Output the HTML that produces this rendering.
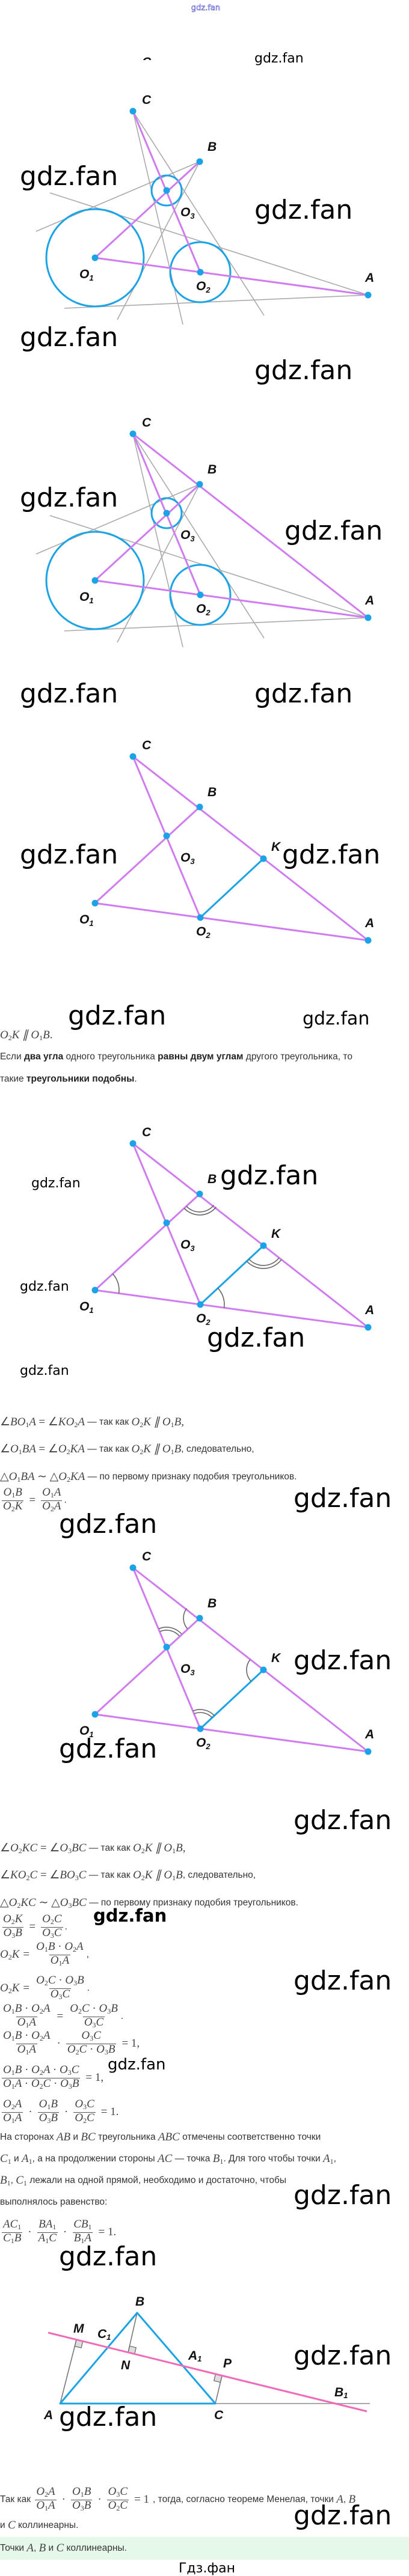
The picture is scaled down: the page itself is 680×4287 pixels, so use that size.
<!DOCTYPE html>
<html><head><meta charset="utf-8">
<style>
html,body{margin:0;padding:0;background:#fff;}
body{width:680px;height:4287px;position:relative;overflow:hidden;font-family:"Liberation Sans",sans-serif;color:#333;}
svg{position:absolute;left:0;top:0;}
.r{position:absolute;left:0;white-space:nowrap;font-size:15.5px;display:flex;align-items:center;height:34px;}
.m{font-family:"Liberation Serif",serif;font-style:italic;font-size:19px;color:#444;}
.m sub,.fr sub{font-style:normal;font-size:12px;vertical-align:-3px;}
.n{font-style:normal;}
.fr{display:inline-flex;flex-direction:column;align-items:center;font-family:"Liberation Serif",serif;font-style:italic;font-size:19px;color:#444;vertical-align:middle;margin:0 3px;}
.fr>span{line-height:17px;padding:0 2px;}
.fr>span+span{border-top:1px solid #555;}
.op{font-family:"Liberation Serif",serif;font-size:19px;color:#444;margin:0 6px;}
b{color:#222;}
.band{position:absolute;left:0;top:4222px;width:680px;height:38px;background:#e5f8ea;}
</style></head><body>
<div class="band"></div>
<svg width="680" height="4287" viewBox="0 0 680 4287" xmlns="http://www.w3.org/2000/svg">
<defs>
<g id="lab">
<g font-family="Liberation Sans" font-weight="bold" font-style="italic" font-size="21" fill="#111">
<text x="236" y="173">C</text>
<text x="345" y="251">B</text>
<text x="300" y="360">O<tspan font-size="13" dy="4">3</tspan></text>
<text x="132" y="463">O<tspan font-size="13" dy="4">1</tspan></text>
<text x="326" y="483">O<tspan font-size="13" dy="4">2</tspan></text>
<text x="607" y="469">A</text>
</g>
</g>
<g id="gray" stroke="#aaa" stroke-width="1.6">
<line x1="83" y1="321" x2="612" y2="491"/>
<line x1="60" y1="385" x2="332" y2="269"/>
<line x1="107" y1="513" x2="612" y2="491"/>
<line x1="221" y1="185" x2="304" y2="540"/>
<line x1="221" y1="185" x2="439" y2="525"/>
<line x1="332" y1="269" x2="195" y2="532"/>
</g>
<g id="circ" stroke="#1aa3e6" stroke-width="3" fill="none">
<circle cx="158" cy="429" r="81"/>
<circle cx="333" cy="453" r="50"/>
<circle cx="277" cy="317" r="25"/>
</g>
<g id="pts6" fill="#1aa3e6">
<circle cx="221" cy="185" r="5.5"/><circle cx="332" cy="269" r="5.5"/><circle cx="277" cy="317" r="5.5"/>
<circle cx="158" cy="429" r="5.5"/><circle cx="333" cy="453" r="5.5"/><circle cx="612" cy="491" r="5.5"/>
</g>
<g id="mag1" stroke="#d07cf0" stroke-width="3">
<line x1="221" y1="185" x2="333" y2="453"/>
<line x1="158" y1="429" x2="332" y2="269"/>
<line x1="158" y1="429" x2="612" y2="491"/>
</g>
<g id="tri">
<g stroke="#d07cf0" stroke-width="3">
<line x1="221" y1="185" x2="612" y2="491"/>
<line x1="221" y1="185" x2="333" y2="453"/>
<line x1="158" y1="429" x2="332" y2="269"/>
<line x1="158" y1="429" x2="612" y2="491"/>
</g>
<line x1="333" y1="453" x2="438" y2="355" stroke="#1aa3e6" stroke-width="3"/>
<use href="#pts6"/>
<circle cx="438" cy="355" r="5.5" fill="#1aa3e6"/>
<use href="#lab"/>
<text x="451" y="342" font-family="Liberation Sans" font-weight="bold" font-style="italic" font-size="21" fill="#111">K</text>
</g>
</defs>

<text x="342" y="17" text-anchor="middle" font-family="DejaVu Sans" font-size="13" fill="none" stroke="#4444cc" stroke-width="0.6">gdz.fan</text>
<text x="236" y="110" font-family="Liberation Sans" font-weight="bold" font-style="italic" font-size="21" fill="#111">C</text>
<rect x="225" y="100" width="40" height="20" fill="#fff"/>

<use href="#gray"/><use href="#circ"/><use href="#mag1"/><use href="#pts6"/><use href="#lab"/>
<g transform="translate(0,537)">
<use href="#gray"/><use href="#circ"/><use href="#mag1"/>
<line x1="221" y1="185" x2="612" y2="491" stroke="#d07cf0" stroke-width="3"/>
<use href="#pts6"/><use href="#lab"/>
</g>
<g transform="translate(0,1074)"><use href="#tri"/></g>
<g transform="translate(0,1718)">
<use href="#tri"/>
<g stroke="#666" stroke-width="1.6" fill="none">
<path d="M355.5,287.6 A30,30 0 0 1 309.9,289.3"/>
<path d="M359.4,290.7 A35,35 0 0 1 306.2,292.7"/>
<path d="M464,375.3 A33,33 0 0 1 413.9,377.5"/>
<path d="M467.9,378.4 A38,38 0 0 1 410.2,380.9"/>
<path d="M187.4,401.9 A40,40 0 0 1 197.6,434.4"/>
<path d="M362.2,425.7 A40,40 0 0 1 372.6,458.4"/>
</g>
</g>
<g transform="translate(0,2424)">
<use href="#tri"/>
<g stroke="#666" stroke-width="1.6" fill="none">
<path d="M311.7,286.7 A27,27 0 0 1 310.4,252.7"/>
<path d="M266.1,291.2 A28,28 0 0 1 298.1,298.6"/>
<path d="M264.1,286.6 A33,33 0 0 1 301.9,295.4"/>
<path d="M417.5,374.1 A28,28 0 0 1 415.9,337.8"/>
<path d="M322.6,428.1 A27,27 0 0 1 352.7,434.6"/>
<path d="M320.6,423.5 A32,32 0 0 1 356.4,431.2"/>
</g>
</g>

<g>
<line x1="358" y1="4000" x2="615" y2="4000" stroke="#aaa" stroke-width="2"/>
<g stroke="#777" stroke-width="1.6">
<line x1="100" y1="4000" x2="127" y2="3894"/>
<line x1="228" y1="3849" x2="213" y2="3915"/>
<line x1="358" y1="4000" x2="369" y2="3954"/>
</g>
<g fill="#ddd" stroke="#666" stroke-width="1.2">
<rect x="0" y="0" width="11" height="11" transform="translate(127,3894) rotate(13.9)"/>
<rect x="0" y="-11" width="11" height="11" transform="translate(213,3915) rotate(13.9)"/>
<rect x="-11" y="0" width="11" height="11" transform="translate(369,3954) rotate(13.9)"/>
</g>
<polygon points="100,4000 228,3849 358,4000" fill="none" stroke="#1aa3e6" stroke-width="3" stroke-linejoin="round"/>
<line x1="80" y1="3882" x2="610" y2="4013" stroke="#f06ab8" stroke-width="3"/>
<g font-family="Liberation Sans" font-weight="bold" font-style="italic" font-size="21" fill="#111">
<text x="225" y="3837">B</text>
<text x="122" y="3882">M</text>
<text x="162" y="3891">C<tspan font-size="13" dy="3">1</tspan></text>
<text x="201" y="3943">N</text>
<text x="313" y="3927">A<tspan font-size="13" dy="3">1</tspan></text>
<text x="371" y="3940">P</text>
<text x="556" y="3988">B<tspan font-size="13" dy="3">1</tspan></text>
<text x="73" y="4026">A</text>
<text x="356" y="4026">C</text>
</g>
</g>

<g font-family="DejaVu Sans" fill="#000">
<text x="423" y="104" font-size="22">gdz.fan</text>
<text x="33" y="308" font-size="44">gdz.fan</text>
<text x="423" y="364" font-size="44">gdz.fan</text>
<text x="33" y="576" font-size="44">gdz.fan</text>
<text x="423" y="631" font-size="44">gdz.fan</text>
<text x="33" y="843" font-size="44">gdz.fan</text>
<text x="473" y="898" font-size="44">gdz.fan</text>
<text x="33" y="1169" font-size="44">gdz.fan</text>
<text x="423" y="1169" font-size="44">gdz.fan</text>
<text x="33" y="1437" font-size="44">gdz.fan</text>
<text x="469" y="1437" font-size="44">gdz.fan</text>
<text x="113" y="1705" font-size="44">gdz.fan</text>
<text x="503" y="1705" font-size="30">gdz.fan</text>
<text x="366" y="1971" font-size="44">gdz.fan</text>
<text x="52" y="1976" font-size="22">gdz.fan</text>
<text x="33" y="2148" font-size="22">gdz.fan</text>
<text x="344" y="2241" font-size="44">gdz.fan</text>
<text x="33" y="2288" font-size="22">gdz.fan</text>
<text x="488" y="2508" font-size="44">gdz.fan</text>
<text x="98" y="2551" font-size="44">gdz.fan</text>
<text x="488" y="2778" font-size="44">gdz.fan</text>
<text x="98" y="2925" font-size="44">gdz.fan</text>
<text x="488" y="3044" font-size="44">gdz.fan</text>
<text x="155" y="3198" font-size="29" font-weight="bold">gdz.fan</text>
<text x="488" y="3311" font-size="44">gdz.fan</text>
<text x="179" y="3444" font-size="26">gdz.fan</text>
<text x="488" y="3668" font-size="44">gdz.fan</text>
<text x="98" y="3770" font-size="44">gdz.fan</text>
<text x="488" y="3935" font-size="44">gdz.fan</text>
<text x="98" y="4037" font-size="44">gdz.fan</text>
<text x="488" y="4201" font-size="44">gdz.fan</text>
<text x="344" y="4281" font-size="22" text-anchor="middle">Гдз.фан</text>
</g>
</svg>

<div class="r" style="top:1706px"><span class="m">O<sub>2</sub>K ∥ O<sub>1</sub>B<span class="n">.</span></span></div>
<div class="r" style="top:1742px">Если&nbsp;<b>два угла</b>&nbsp;одного треугольника&nbsp;<b>равны двум углам</b>&nbsp;другого треугольника, то</div>
<div class="r" style="top:1779px">такие&nbsp;<b>треугольники подобны</b>.</div>

<div class="r" style="top:2350px"><span class="m"><span class="n">∠</span>BO<sub>1</sub>A <span class="n">=</span> <span class="n">∠</span>KO<sub>2</sub>A</span>&nbsp;— так как&nbsp;<span class="m">O<sub>2</sub>K ∥ O<sub>1</sub>B<span class="n">,</span></span></div>
<div class="r" style="top:2395px"><span class="m"><span class="n">∠</span>O<sub>1</sub>BA <span class="n">=</span> <span class="n">∠</span>O<sub>2</sub>KA</span>&nbsp;— так как&nbsp;<span class="m">O<sub>2</sub>K ∥ O<sub>1</sub>B</span>, следовательно,</div>
<div class="r" style="top:2441px"><span class="m"><span class="n">△</span>O<sub>1</sub>BA <span class="n">∼ △</span>O<sub>2</sub>KA</span>&nbsp;— по первому признаку подобия треугольников.</div>
<div class="r" style="top:2480px"><span class="fr"><span>O<sub>1</sub>B</span><span>O<sub>2</sub>K</span></span><span class="op">=</span><span class="fr"><span>O<sub>1</sub>A</span><span>O<sub>2</sub>A</span></span>.</div>

<div class="r" style="top:3059px"><span class="m"><span class="n">∠</span>O<sub>2</sub>KC <span class="n">=</span> <span class="n">∠</span>O<sub>3</sub>BC</span>&nbsp;— так как&nbsp;<span class="m">O<sub>2</sub>K ∥ O<sub>1</sub>B<span class="n">,</span></span></div>
<div class="r" style="top:3104px"><span class="m"><span class="n">∠</span>KO<sub>2</sub>C <span class="n">=</span> <span class="n">∠</span>BO<sub>3</sub>C</span>&nbsp;— так как&nbsp;<span class="m">O<sub>2</sub>K ∥ O<sub>1</sub>B</span>, следовательно,</div>
<div class="r" style="top:3150px"><span class="m"><span class="n">△</span>O<sub>2</sub>KC <span class="n">∼ △</span>O<sub>3</sub>BC</span>&nbsp;— по первому признаку подобия треугольников.</div>
<div class="r" style="top:3190px"><span class="fr"><span>O<sub>2</sub>K</span><span>O<sub>3</sub>B</span></span><span class="op">=</span><span class="fr"><span>O<sub>2</sub>C</span><span>O<sub>3</sub>C</span></span>.</div>
<div class="r" style="top:3236px"><span class="m">O<sub>2</sub>K</span><span class="op">=</span><span class="fr"><span>O<sub>1</sub>B <span class="n">·</span> O<sub>2</sub>A</span><span>O<sub>1</sub>A</span></span>,</div>
<div class="r" style="top:3292px"><span class="m">O<sub>2</sub>K</span><span class="op">=</span><span class="fr"><span>O<sub>2</sub>C <span class="n">·</span> O<sub>3</sub>B</span><span>O<sub>3</sub>C</span></span>.</div>
<div class="r" style="top:3339px"><span class="fr"><span>O<sub>1</sub>B <span class="n">·</span> O<sub>2</sub>A</span><span>O<sub>1</sub>A</span></span><span class="op">=</span><span class="fr"><span>O<sub>2</sub>C <span class="n">·</span> O<sub>3</sub>B</span><span>O<sub>3</sub>C</span></span>.</div>
<div class="r" style="top:3384px"><span class="fr"><span>O<sub>1</sub>B <span class="n">·</span> O<sub>2</sub>A</span><span>O<sub>1</sub>A</span></span><span class="op">·</span><span class="fr"><span>O<sub>3</sub>C</span><span>O<sub>2</sub>C <span class="n">·</span> O<sub>3</sub>B</span></span><span class="op">= 1,</span></div>
<div class="r" style="top:3441px"><span class="fr"><span>O<sub>1</sub>B <span class="n">·</span> O<sub>2</sub>A <span class="n">·</span> O<sub>3</sub>C</span><span>O<sub>1</sub>A <span class="n">·</span> O<sub>2</sub>C <span class="n">·</span> O<sub>3</sub>B</span></span><span class="op">= 1,</span></div>
<div class="r" style="top:3498px"><span class="fr"><span>O<sub>2</sub>A</span><span>O<sub>1</sub>A</span></span><span class="op">·</span><span class="fr"><span>O<sub>1</sub>B</span><span>O<sub>3</sub>B</span></span><span class="op">·</span><span class="fr"><span>O<sub>3</sub>C</span><span>O<sub>2</sub>C</span></span><span class="op">= 1.</span></div>
<div class="r" style="top:3540px">На сторонах&nbsp;<span class="m">AB</span>&nbsp;и&nbsp;<span class="m">BC</span>&nbsp;треугольника&nbsp;<span class="m">ABC</span>&nbsp;отмечены соответственно точки</div>
<div class="r" style="top:3576px"><span class="m">C<sub>1</sub></span>&nbsp;и&nbsp;<span class="m">A<sub>1</sub></span>, а на продолжении стороны&nbsp;<span class="m">AC</span>&nbsp;— точка&nbsp;<span class="m">B<sub>1</sub></span>. Для того чтобы точки&nbsp;<span class="m">A<sub>1</sub></span>,</div>
<div class="r" style="top:3612px"><span class="m">B<sub>1</sub></span>,&nbsp;<span class="m">C<sub>1</sub></span>&nbsp;лежали на одной прямой, необходимо и достаточно, чтобы</div>
<div class="r" style="top:3648px">выполнялось равенство:</div>
<div class="r" style="top:3698px"><span class="fr"><span>AC<sub>1</sub></span><span>C<sub>1</sub>B</span></span><span class="op">·</span><span class="fr"><span>BA<sub>1</sub></span><span>A<sub>1</sub>C</span></span><span class="op">·</span><span class="fr"><span>CB<sub>1</sub></span><span>B<sub>1</sub>A</span></span><span class="op">= 1.</span></div>

<div class="r" style="top:4143px">Так как&nbsp;<span class="fr"><span>O<sub>2</sub>A</span><span>O<sub>1</sub>A</span></span><span class="op">·</span><span class="fr"><span>O<sub>1</sub>B</span><span>O<sub>3</sub>B</span></span><span class="op">·</span><span class="fr"><span>O<sub>3</sub>C</span><span>O<sub>2</sub>C</span></span><span class="op">= 1</span>, тогда, согласно теореме Менелая, точки&nbsp;<span class="m">A</span>,&nbsp;<span class="m">B</span></div>
<div class="r" style="top:4186px">и&nbsp;<span class="m">C</span>&nbsp;коллинеарны.</div>
<div class="r" style="top:4224px">Точки&nbsp;<span class="m">A</span>,&nbsp;<span class="m">B</span>&nbsp;и&nbsp;<span class="m">C</span>&nbsp;коллинеарны.</div>
</body></html>
